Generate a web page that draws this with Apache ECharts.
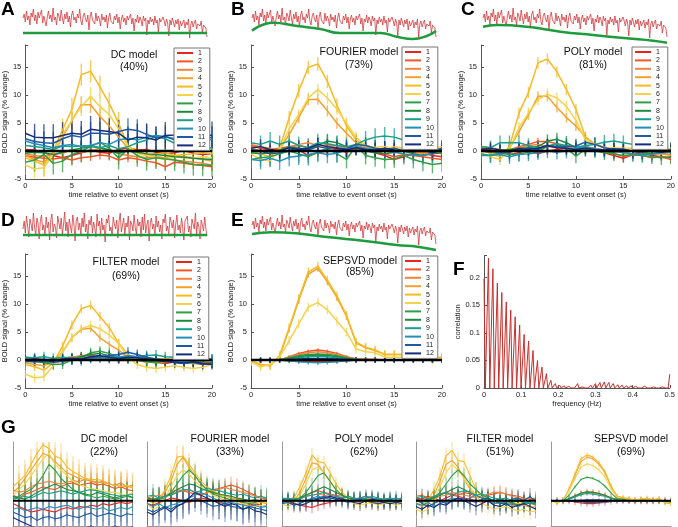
<!DOCTYPE html>
<html><head><meta charset="utf-8">
<script src="https://cdn.jsdelivr.net/npm/echarts/dist/echarts.min.js"></script>
<style>html,body{margin:0;padding:0;background:#fff}#c{width:678px;height:527px}</style>
</head><body><div id="c"></div>
<script>
const FONT = '"Liberation Sans", Arial, Helvetica, sans-serif';
const seriesNames = ['1','2','3','4','5','6','7','8','9','10','11','12'];
const colors = ['#e4261f','#f0562a','#f2843e','#f3a02c','#f7ba22','#f6d24a','#2ea043','#1c8a3c','#17a08c','#2390b8','#1f5aa2','#172c7a'];
const timePoints = [0,1,2,3,4,5,6,7,8,9,10,11,12,13,14,15,16,17,18,19,20];

// ---- top traces (scan index 0..159) ----
const rawSignal = [
26,30,22,33,24,28,19,31,27,35,23,29,20,32,26,24,34,21,28,30,
18,27,33,25,29,22,36,24,27,19,31,28,23,34,26,20,30,25,32,22,
28,17,29,33,24,27,21,30,26,35,23,19,28,31,25,22,29,14,27,32,
24,26,20,31,23,28,25,18,30,24,27,22,29,16,26,31,23,25,20,28,
24,30,21,27,15,25,29,22,26,19,28,24,23,30,20,26,13,25,22,29,
21,27,24,18,28,23,26,9,24,20,27,22,25,19,28,21,24,12,26,22,
20,27,23,18,25,21,8,24,19,26,22,17,24,20,25,14,23,18,21,24,
16,22,19,25,6,20,23,17,21,24,15,20,22,18,23,11,19,21,16,7];
const filteredSignal = [
22,30,18,35,25,14,32,27,20,38,24,16,33,28,12,30,36,21,26,15,
34,23,29,11,31,37,19,27,24,13,35,28,22,33,17,26,39,20,29,14,
32,25,18,36,27,10,30,34,21,28,16,33,24,38,19,27,12,31,26,35,
18,29,23,14,37,25,30,17,33,21,26,9,32,28,36,20,24,15,34,27,
22,31,13,29,38,19,26,33,16,28,24,35,11,30,27,20,36,23,17,32,
25,29,14,34,21,37,18,26,31,10,28,33,22,27,15,35,24,30,19,26,
12,32,28,37,20,25,16,34,29,23,31,13,27,36,21,26,18,33,24,11,
30,28,35,19,25,14,32,27,22,38,17,29,24,12,31,26,20,34,23,15];
const driftDC = [[0,11],[159,11]];
const driftFourier = [[0,13.3],[18,21.3],[39,18],[59,15],[76,11],[96,11],[111,11],[125,7.3],[139,5],[151,8],[159,13]];
const driftPoly = [[0,17.3],[12,19],[38,17.3],[67,12.3],[95,9],[124,5.7],[147,3.3],[159,1.3]];
const driftFilter = [[0,16],[159,16]];
const driftSepsvd = [[0,17],[17,18.7],[38,17.7],[67,13.7],[96,10.3],[125,6],[143,4.3],[159,1]];

// ---- main panels: 12 series x 21 time points ----
const dcModel = [
[0.3,0.2,-0.3,-0.8,-1.2,-0.8,-0.3,0.2,-0.2,-0.4,0.3,0.6,0.2,0.3,-0.2,-0.5,-0.3,0.1,-0.4,-0.6,-0.5],
[-0.8,-1.1,-1.3,-1.4,-1.2,-1.6,-1.2,-1.0,-0.7,-0.9,-1.6,-1.2,-1.4,-1.8,-2.1,-2.8,-2.0,-2.2,-2.4,-2.6,-2.8],
[-0.5,-0.8,-1.0,-0.6,-0.4,0.3,-0.2,0.0,0.5,0.3,-0.5,-0.8,-1.0,-1.2,-1.0,-1.3,-1.6,-1.8,-2.0,-2.2,-2.5],
[-0.8,-1.5,-2.0,-0.5,2.5,5.5,8.3,8.3,6.2,4.5,2.5,0.5,-0.3,-0.5,-1.0,-1.2,-0.8,-1.0,-1.2,-1.5,-1.8],
[-1.2,-1.8,-2.5,0.0,3.8,7.5,13.7,14.3,11.5,8.5,5.0,1.0,-0.2,-0.8,-0.5,-0.3,-0.8,-0.6,-0.5,-0.3,-0.5],
[-2.5,-3.2,-3.0,-0.5,3.0,5.5,8.0,9.8,8.0,6.5,4.0,0.8,-0.5,-0.8,-1.2,-1.5,-1.0,-1.2,-1.3,-1.0,-1.2],
[-2.0,-1.6,-0.6,-2.2,-1.8,-0.6,0.0,0.8,1.6,0.5,-1.3,0.4,-0.8,-1.5,-1.2,-1.4,-1.6,-2.0,-2.4,-2.5,-2.6],
[-0.4,-0.2,-0.3,-0.6,-0.2,0.2,0.5,0.8,0.6,0.2,-0.4,0.0,-0.2,-0.5,-0.6,-0.8,-1.0,-1.1,-1.3,-1.4,-1.5],
[1.0,0.8,0.6,0.3,0.9,0.8,0.9,1.0,0.6,1.0,0.4,0.8,1.5,2.0,2.6,2.2,1.4,0.8,0.5,0.6,0.6],
[1.8,1.3,1.0,0.6,1.0,1.2,0.8,1.0,1.5,1.2,2.0,2.3,2.0,2.5,2.8,2.6,2.2,2.4,2.0,1.8,2.1],
[2.2,1.7,1.5,1.4,2.2,2.8,2.5,3.2,3.2,3.0,3.5,3.9,3.7,3.0,2.4,2.6,2.0,2.7,2.3,2.0,2.5],
[3.2,2.5,2.4,2.4,2.8,3.2,3.0,3.9,3.7,3.5,3.2,2.0,2.5,2.4,2.0,2.8,2.9,3.1,2.9,2.6,2.9]];
const dcErr = [0.6,0.8,0.8,1.5,2.0,1.7,2.0,0.9,0.8,0.7,2.0,2.4];

const fourierModel = [
[1.0,0.5,0.2,-0.3,0.0,0.2,-0.8,-0.3,0.0,0.3,-0.2,0.5,0.2,-0.3,-0.8,-1.5,-1.0,-0.5,-0.3,-0.8,-1.0],
[0.8,0.6,0.3,0.5,0.8,1.0,0.6,0.8,1.2,0.5,0.2,0.5,0.3,0.0,-0.5,-1.0,-0.6,-0.8,-1.0,-1.3,-1.5],
[1.2,0.8,0.5,0.2,0.6,1.2,1.5,1.0,0.8,1.0,0.6,1.0,0.6,0.4,0.2,0.0,0.3,0.0,-0.3,-0.2,-0.5],
[0.5,0.0,-0.5,0.3,3.0,6.0,9.2,9.3,7.2,5.0,3.2,1.5,0.8,0.3,0.0,-0.3,0.0,-0.3,-0.5,-0.4,-0.3],
[0.2,-0.5,-1.0,0.5,6.0,10.8,15.0,15.6,12.5,8.2,4.5,2.0,0.8,0.5,0.3,0.8,0.5,0.3,0.2,0.3,0.4],
[-0.5,-1.5,-1.8,0.2,4.0,6.5,9.5,11.0,9.5,7.5,5.0,2.5,1.0,0.7,0.8,0.5,0.6,0.3,0.2,0.5,0.8],
[-1.5,-1.2,-1.0,-0.5,0.0,-0.5,-1.0,-0.2,0.5,-0.5,-1.5,1.0,-0.8,-1.2,-1.5,-1.4,-0.8,-1.5,-2.0,-2.4,-2.2],
[-0.3,-0.5,-0.3,0.2,0.8,0.5,0.3,1.0,1.8,1.5,0.8,0.5,0.0,-0.3,-0.5,-0.2,0.0,-0.5,-0.8,-0.5,-0.3],
[1.5,1.2,1.8,1.2,1.8,1.0,0.6,1.5,1.3,1.0,0.8,1.2,2.0,2.5,2.7,2.5,2.0,1.2,0.5,0.2,0.3],
[-1.5,-1.7,-1.3,-1.8,-1.1,-0.9,-0.6,-0.3,-0.6,-0.4,0.2,0.8,0.5,0.3,0.0,-0.2,-0.5,-0.7,-0.8,-0.4,0.3],
[0.3,0.0,-0.5,-0.3,0.2,0.5,0.2,0.8,0.5,0.6,0.4,1.2,1.0,0.5,0.3,0.5,0.0,-0.2,0.2,0.0,0.5],
[0.5,0.8,0.3,0.0,0.6,0.3,0.5,1.2,0.8,0.5,0.2,0.6,0.3,0.2,0.5,0.2,0.0,0.3,0.2,-0.3,0.2]];
const fourierErr = [0.8,0.8,0.8,1.0,1.2,1.0,1.6,1.3,1.6,1.6,1.5,1.3];

const polyModel = [
[0.5,0.2,0.0,-0.6,-0.3,0.3,-0.5,0.0,0.3,0.5,0.0,0.8,0.3,-0.3,-0.8,-1.3,-0.6,-0.3,-0.8,-1.0,-1.2],
[0.3,0.0,-0.3,0.2,0.8,1.2,1.7,1.7,1.3,0.8,0.2,0.5,0.4,0.0,-0.4,-1.0,-0.7,-0.8,-1.2,-1.0,-1.5],
[0.8,0.6,0.3,0.0,0.5,1.0,1.2,0.8,0.6,0.8,0.4,0.8,0.5,0.2,0.0,-0.3,0.0,-0.2,-0.5,-0.4,-0.6],
[0.2,-0.3,-0.5,0.5,3.5,6.5,9.8,9.8,7.8,6.0,4.5,2.5,1.2,0.6,0.3,-0.3,0.0,-0.3,-0.5,-0.5,-0.8],
[0.3,-0.5,-1.0,0.8,6.8,10.5,15.8,16.5,14.2,11.0,7.5,2.5,1.3,0.7,0.5,0.5,0.4,0.3,0.2,0.2,0.2],
[-0.3,-1.0,-1.5,0.3,4.2,6.8,9.2,10.2,9.5,8.0,5.5,2.0,1.2,0.6,0.6,0.4,0.5,0.2,0.0,0.3,0.5],
[-0.5,-0.8,-0.3,-0.6,-0.5,-0.2,0.0,0.8,1.2,0.5,-0.9,0.3,0.0,-0.3,-0.5,-0.8,-0.6,-0.8,-1.0,-1.2,-1.0],
[0.0,-0.2,0.0,0.3,0.5,0.6,0.8,1.8,2.1,1.5,0.6,0.3,0.2,0.0,-0.2,0.2,0.0,-0.3,-0.4,-0.2,0.0],
[0.8,0.6,1.5,1.5,1.5,1.0,0.5,0.9,1.3,1.0,0.7,1.0,1.2,1.6,1.8,1.5,1.2,0.6,0.3,0.2,0.2],
[-0.8,-0.8,-0.6,-1.0,-0.6,-0.5,-0.3,0.0,-0.2,0.0,0.4,0.8,0.4,0.2,0.0,-0.3,-0.5,-0.6,-0.6,-0.3,-0.2],
[0.2,0.0,-0.3,-0.2,0.3,0.5,0.3,0.9,0.8,0.8,0.9,1.6,1.2,0.6,0.3,0.4,-0.1,-0.2,0.1,-0.1,0.3],
[0.3,0.5,0.2,0.0,0.4,0.3,0.5,1.0,0.6,0.5,0.3,0.5,0.3,0.2,0.4,0.2,0.0,0.2,0.1,-0.2,0.1]];
const polyErr = [0.7,0.7,0.7,0.9,1.0,1.0,1.3,1.2,1.3,1.3,1.3,1.1];

const filterModel = [
[0.5,0.3,0.0,-0.3,-0.2,0.3,0.0,0.3,0.5,0.2,0.0,0.3,0.2,-0.2,-0.4,-0.6,-0.3,0.0,-0.2,0.0,0.3],
[0.2,0.0,-0.3,-0.2,0.2,0.5,0.8,0.8,0.6,0.3,0.0,0.2,0.2,0.0,-0.2,-0.5,-0.3,-0.4,-0.6,-0.4,-0.5],
[0.3,0.2,0.0,-0.2,0.3,0.6,0.6,0.5,0.4,0.4,0.2,0.5,0.3,0.2,0.0,-0.1,0.1,0.0,-0.2,-0.1,-0.2],
[-0.5,-0.8,-1.0,-0.3,1.5,4.0,5.5,5.7,4.0,2.8,1.8,0.5,0.0,-0.3,-0.5,-0.4,-0.3,-0.5,-0.6,-0.8,-0.7],
[-0.8,-1.2,-1.8,-0.5,2.5,6.3,9.2,9.8,7.8,5.8,3.0,1.0,0.0,-0.5,0.0,0.3,0.0,-0.3,-0.5,-0.8,-0.6],
[-2.5,-3.2,-3.0,-1.0,1.5,4.0,5.6,6.2,5.6,4.5,3.0,0.5,-0.8,-1.3,-1.5,-1.3,-1.0,-1.3,-1.5,-1.3,-0.8],
[-0.3,-0.2,-0.5,-0.8,-0.7,0.0,0.5,1.3,1.6,1.2,0.5,0.3,0.0,-0.3,-0.5,-0.2,0.0,-0.3,-0.5,-0.6,-0.5],
[0.0,-0.2,-0.3,-0.3,0.0,0.3,0.6,1.0,1.2,0.8,0.4,0.2,0.0,-0.2,-0.2,0.0,0.0,-0.2,-0.3,-0.2,0.0],
[0.5,0.4,0.6,0.3,0.5,0.4,0.3,0.6,0.7,0.5,0.6,0.7,0.6,0.8,0.9,0.6,0.5,0.3,0.2,0.3,0.2],
[0.3,0.0,0.2,-0.2,0.0,0.2,-0.1,0.3,0.4,0.3,0.5,0.8,0.6,0.4,0.2,0.0,-0.2,-0.3,-0.2,0.0,0.2],
[-0.2,-0.3,-0.2,-0.4,-0.2,0.0,0.2,0.5,0.6,0.8,1.0,1.4,1.0,0.5,0.2,0.0,-0.5,-0.6,-0.4,-0.8,-0.5],
[0.0,0.2,0.0,-0.2,0.2,0.3,0.2,0.6,0.8,0.5,0.3,0.5,0.4,0.2,0.0,-0.3,-0.4,-0.5,-0.3,-0.6,-0.8]];
const filterErr = [0.6,0.6,0.6,0.7,0.8,0.8,0.9,0.9,0.9,0.9,0.9,0.9];

const sepsvdModel = [
[0,0,0,0,-0.1,-0.2,-0.3,-0.3,-0.3,-0.2,-0.1,0,0,0,0,0,0,0,0,0,0],
[0,0,0,0,0.6,1.2,1.6,1.8,1.6,1.2,0.6,0.2,0.1,0.1,0,0,0,0,0,0,0],
[0,0,0,0,0.5,1.0,1.3,1.5,1.3,1.0,0.5,0.2,0.1,0.1,0,0,0,0,0,0,0],
[-0.2,-0.8,-1.0,0.7,5.6,10.7,15.4,16.4,14.0,11.2,7.8,3.1,2.2,1.7,1.0,1.0,1.0,1.0,0.8,0.3,0.5],
[-0.2,-0.8,-1.0,0.8,5.8,11.0,15.8,16.8,14.3,11.5,8.0,3.2,2.3,1.8,1.0,1.0,1.0,1.0,0.8,0.3,0.5],
[-0.3,-1.2,-0.8,0.5,3.5,6.5,9.5,10.3,9.0,7.0,5.0,2.0,1.5,1.3,0.5,0.5,0.5,0.5,0.3,0.0,0.3],
[0,0,0,0,0.4,0.8,1.0,1.1,1.0,0.8,0.4,0.1,0.1,0,0,0,0,0,0,0,0],
[0,0,0,0,0.3,0.6,0.8,0.9,0.8,0.6,0.3,0.1,0,0,0,0,0,0,0,0,0],
[0,0,0,0,0.2,0.4,0.6,0.7,0.6,0.4,0.2,0.1,0,0,0,0,0,0,0,0,0],
[0,0,0,0,-0.1,-0.3,-0.4,-0.5,-0.4,-0.3,-0.1,0,0,0,0,0,0,0,0,0,0],
[0,0,0,0,0.1,0.2,0.3,0.3,0.3,0.2,0.1,0,0,0,0,0,0,0,0,0,0],
[0,0,0,0,0.1,0.1,0.2,0.2,0.2,0.1,0.1,0,0,0,0,0,0,0,0,0,0]];
const sepsvdErr = [0.3,0.3,0.3,0.6,0.8,0.8,0.3,0.3,0.3,0.4,0.5,0.5];

// ---- panel F ----
const freqStep = 0.012;
const corrPeaks = [0.198,0.235,0.216,0.19,0.173,0.156,0.141,0.129,0.114,0.097,0.085,0.068,0.05,0.038,0.026,0.014,0.008,0.005,0.004,0.003,0.003,0.008,0.002,0.003,0.005,0.008,0.010,0.011,0.010,0.008,0.006,0.005,0.004,0.004,0.003,0.003,0.003,0.002,0.002,0.002,0.002,0.002];
const corrEnd = 0.025;

// ---- panel G ----
const gDC = [
[-0.5,-1.0,-1.5,-2.0,-1.8,-1.5,-1.8,-2.0,-1.5,-1.2,-1.5,-1.0,-1.2,-0.8,-1.0,-0.5,-0.8,-0.5,-0.3,-0.5,-0.2],
[1.0,0.5,1.2,1.5,2.0,2.5,2.2,2.0,2.5,3.0,3.2,2.8,3.0,3.2,2.8,3.0,2.6,2.2,2.5,2.0,1.8],
[2.0,1.5,1.8,2.5,3.0,3.2,3.5,3.2,3.0,3.3,3.6,3.4,3.8,3.5,3.2,3.5,3.0,2.8,3.2,2.5,2.8],
[1.5,2.5,4.0,5.5,7.0,8.5,8.0,7.0,6.0,5.0,4.5,4.0,3.8,3.6,3.4,3.2,3.0,2.8,2.6,2.5,2.4],
[2.5,3.5,4.5,6.5,8.5,10.0,9.3,8.0,7.5,6.0,5.2,4.6,4.0,3.8,3.8,3.6,3.0,2.8,2.6,2.8,2.2],
[1.0,2.0,3.0,4.5,6.0,7.5,8.5,6.5,5.5,4.5,3.5,3.0,2.5,2.2,2.0,1.8,1.5,1.5,1.2,1.0,1.5],
[0.5,0.8,1.5,2.0,3.0,4.5,6.5,5.5,4.0,3.0,2.0,1.5,1.0,0.8,0.5,0.8,0.6,0.3,0.5,0.8,0.5],
[0.8,0.5,0.3,0.8,1.5,2.0,2.5,3.0,2.5,2.0,1.8,1.5,1.2,1.0,1.5,1.2,0.8,0.5,0.8,1.0,0.6],
[0.3,0.5,0.8,0.5,1.0,1.5,1.3,1.5,1.8,1.5,1.2,1.5,1.8,2.0,1.8,1.5,1.2,1.0,0.8,1.0,1.2],
[-1.5,-1.2,-1.8,-1.5,-1.2,-1.5,-1.0,-1.3,-1.0,-0.8,-1.2,-1.5,-1.0,-1.3,-1.5,-1.2,-1.8,-1.5,-1.2,-1.5,-1.0],
[-2.0,-2.5,-3.0,-2.8,-3.5,-3.0,-2.8,-3.2,-3.0,-2.5,-2.8,-3.0,-2.5,-2.2,-2.8,-2.5,-2.2,-2.5,-2.8,-2.3,-2.5],
[-3.0,-3.5,-4.0,-4.5,-5.0,-5.5,-5.0,-4.8,-5.2,-5.0,-4.8,-5.5,-5.0,-4.5,-5.0,-4.8,-5.0,-4.5,-4.8,-5.0,-4.6]];
const gDCErr = [1.5,1.8,1.8,2.5,2.8,2.8,2.5,2.5,2.2,2.5,2.8,3.0];
const gFourier = [
[-0.5,-0.8,-0.3,0.0,0.5,0.3,0.0,-0.3,0.2,0.5,0.3,0.0,-0.3,-0.5,-0.2,0.0,-0.5,-0.8,-0.5,-0.8,-1.0],
[0.3,0.0,0.5,0.8,1.5,2.0,1.8,1.5,1.2,1.0,1.5,2.0,2.2,2.5,2.8,2.5,2.0,1.5,1.0,0.5,0.3],
[0.5,0.8,1.0,0.8,1.2,1.5,1.8,2.0,1.6,1.2,1.4,1.8,2.0,2.4,2.0,1.8,1.5,1.2,0.8,0.5,0.6],
[0.5,0.0,0.5,1.5,3.5,6.5,7.8,6.0,4.5,3.0,2.0,1.5,1.0,0.8,0.5,0.3,0.0,-0.3,-0.5,-0.3,-0.5],
[0.3,-0.5,0.2,2.0,4.5,7.8,8.0,6.5,5.0,3.5,2.5,1.8,1.2,1.0,0.8,0.5,0.3,0.0,-0.2,0.0,-0.3],
[-0.5,-1.5,-1.0,0.5,2.5,4.5,5.5,4.8,3.5,2.5,1.8,1.0,0.5,0.2,0.0,-0.3,-0.5,-0.8,-1.0,-0.8,-1.0],
[0.2,0.0,0.3,0.5,1.5,3.0,4.5,5.5,4.5,3.0,2.0,1.2,0.8,0.5,0.2,0.0,-0.2,-0.5,-0.3,0.0,0.2],
[0.5,0.3,0.5,0.8,1.2,2.0,2.5,3.0,2.8,2.2,1.8,1.5,1.2,1.0,0.8,0.5,0.3,0.0,0.2,0.0,0.0],
[0.8,1.0,0.5,0.8,1.0,1.5,2.0,2.0,1.5,1.8,2.2,2.0,1.8,1.5,1.2,1.0,1.2,0.8,0.5,0.8,0.5],
[-0.5,-1.0,-0.5,-1.2,-0.8,-0.5,0.0,0.5,1.0,1.5,1.0,0.5,0.0,-0.5,-0.3,-0.5,-0.8,-1.0,-0.8,-1.2,-1.0],
[-1.5,-2.0,-1.5,-1.0,-1.5,-0.8,-0.5,0.0,0.5,0.0,-0.5,-1.0,-0.8,-0.5,-1.0,-1.2,-1.5,-1.0,-1.3,-1.5,-1.8],
[-2.0,-2.5,-1.8,-1.2,-2.0,-1.0,-0.5,0.5,1.5,1.0,0.5,0.0,-0.5,-1.0,-0.5,-0.8,-1.5,-1.2,-1.8,-2.0,-2.5]];
const gFourierErr = [1.5,1.5,1.5,1.8,2.0,2.0,2.0,2.0,2.0,2.2,2.5,2.8];
const gPoly = [
[0.0,-0.3,-0.5,-0.8,-1.0,-1.2,-0.8,-0.5,-0.3,0.0,0.3,0.0,-0.2,0.0,0.2,-0.2,-0.5,-0.3,0.0,-0.2,-0.3],
[0.5,0.3,0.0,0.5,1.0,1.5,1.8,1.5,1.2,1.0,0.8,0.5,0.3,0.5,0.8,0.5,0.3,0.0,-0.2,0.0,0.2],
[0.3,0.5,0.2,0.3,0.8,1.0,1.2,1.0,0.8,0.6,0.5,0.8,0.5,0.3,0.5,0.3,0.0,0.2,0.0,-0.3,0.0],
[0.0,-0.5,0.0,1.5,4.0,6.8,6.5,5.0,3.5,2.0,1.0,0.5,0.0,-0.3,0.0,-0.5,-0.3,0.0,-0.5,-0.3,-0.5],
[0.2,-0.3,0.5,2.5,5.0,8.2,7.0,6.8,5.0,3.0,1.5,0.5,0.3,0.0,0.2,-0.2,0.0,0.3,-0.2,0.0,-0.3],
[-0.5,-1.0,-0.5,1.0,3.0,5.5,6.0,5.0,3.5,2.0,0.8,0.0,-0.5,-0.8,-0.5,-0.3,-0.8,-0.5,-0.3,-0.8,-0.5],
[0.0,0.2,0.0,0.5,1.5,3.0,4.5,5.0,3.5,2.0,1.0,0.5,0.3,0.0,0.2,0.0,0.3,0.0,-0.2,0.0,0.0],
[0.3,0.0,0.2,0.5,1.0,1.5,2.0,2.5,2.0,1.5,1.0,0.5,0.3,0.5,0.3,0.0,0.2,0.0,0.3,0.0,0.2],
[0.5,0.3,0.5,0.3,0.8,1.0,1.2,1.5,1.0,0.8,0.5,0.8,0.5,0.3,0.5,0.8,0.5,0.3,0.5,0.3,0.5],
[0.3,0.5,0.0,-0.3,0.0,0.5,0.8,0.5,0.3,0.8,0.5,0.0,0.3,0.5,0.8,0.5,0.3,0.0,0.3,0.5,0.2],
[-0.5,-0.3,-0.8,-0.5,0.0,0.3,0.5,0.8,0.5,0.3,0.0,-0.3,0.0,0.3,0.0,-0.3,-0.5,-0.3,0.0,-0.3,-0.5],
[-0.3,0.0,-0.5,-0.8,-0.5,0.0,0.3,0.5,0.8,0.5,0.3,0.0,-0.3,-0.5,0.0,0.3,0.0,-0.3,-0.5,-0.3,0.0]];
const gPolyErr = [1.0,1.0,1.0,1.2,1.2,1.2,1.2,1.2,1.2,1.3,1.3,1.3];
const gFilter = [
[0.5,0.3,0.8,0.5,0.0,0.5,1.0,0.8,0.5,0.3,0.0,-0.3,0.0,-0.5,-0.3,0.0,-0.5,-0.8,-0.5,-0.3,-0.5],
[0.8,1.0,0.5,0.8,1.2,1.5,1.2,1.0,1.5,1.2,0.8,0.5,1.0,1.2,1.5,1.2,1.0,0.8,0.5,0.3,0.5],
[0.3,0.0,0.5,0.3,0.8,1.0,1.5,1.3,1.0,0.8,0.5,0.8,1.2,1.5,1.5,1.2,0.8,0.5,0.3,0.5,0.0],
[-0.5,-1.0,-0.5,1.0,3.5,6.5,7.2,6.0,4.0,2.0,1.0,0.5,0.0,-0.5,-0.3,-0.5,-0.8,-1.0,-0.8,-1.2,-1.0],
[-0.3,-0.8,0.0,2.0,4.5,8.0,9.0,7.2,7.0,4.5,2.0,0.5,0.2,0.0,0.3,0.0,-0.3,-0.5,-0.3,-0.5,-0.8],
[-1.5,-2.0,-1.5,0.0,2.5,5.0,6.5,5.5,4.0,2.5,1.0,-0.5,-1.0,-1.5,-1.2,-1.0,-1.5,-1.8,-1.5,-2.0,-1.8],
[0.0,-0.3,0.0,0.5,1.5,3.0,4.5,5.5,4.5,3.0,2.0,1.0,0.5,0.0,-0.3,-0.5,-0.3,-0.8,-0.5,-0.3,-0.5],
[0.3,0.0,0.3,0.5,1.0,1.5,2.0,2.5,2.0,1.5,1.0,0.5,0.3,0.0,0.3,0.0,-0.3,0.0,-0.3,-0.5,-0.3],
[0.5,0.8,0.3,0.8,1.2,1.5,1.0,1.5,1.8,1.5,1.0,1.2,0.8,0.5,0.3,0.5,0.0,0.3,-0.3,0.0,0.3],
[-0.5,-0.8,-0.3,-1.0,-0.5,0.0,0.5,0.3,0.0,0.5,1.0,0.5,0.0,-0.5,-0.3,-0.8,-0.5,-1.0,-0.5,-0.3,-0.8],
[0.3,-0.5,-1.0,-0.5,0.0,-0.5,0.0,0.5,0.3,0.0,-0.3,0.3,0.5,0.0,-0.5,-0.3,0.3,0.5,0.0,0.8,-0.3],
[-1.0,-1.5,-0.8,-1.2,-0.5,-0.8,0.0,0.5,0.0,-0.5,-1.0,-0.5,0.0,-0.8,-1.0,-0.5,-1.2,-0.8,-0.5,-1.0,-1.5]];
const gFilterErr = [1.2,1.2,1.2,1.3,1.5,1.5,1.3,1.3,1.3,1.5,1.5,1.6];
const gSepsvd = [
[0,0,0,0,-0.2,-0.4,-0.5,-0.5,-0.4,-0.3,-0.1,0,0,0,0,0,0,0,0,0,0],
[0,0,0,0.3,0.8,1.3,1.6,1.5,1.3,1.0,0.5,0.3,0.2,0.1,0,0,0,0,0,0,0],
[0,0,0,0.3,0.8,1.3,1.5,1.4,1.2,0.9,0.5,0.3,0.2,0.1,0,0,0,0,0,0,0],
[0,-0.3,0,2.0,4.5,7.0,7.8,7.5,6.5,5.0,2.5,0.8,0.5,0.3,0.1,0.3,0.3,0.2,0.3,-0.3,-0.5],
[0,-0.3,0,2.1,4.8,7.5,8.2,7.8,6.8,5.2,2.7,0.8,0.6,0.4,0.2,0.3,0.5,0.2,0.4,-0.3,-0.5],
[0,-0.2,0,1.8,4.0,6.0,6.6,6.3,5.5,4.2,2.2,0.6,0.4,0.2,0.1,0.2,0.3,0.1,0.2,-0.2,-0.4],
[0,0,0,1.0,2.5,3.8,4.2,4.0,3.5,2.6,1.4,0.4,0.3,0.1,0,0.1,0.1,0,0.1,-0.1,-0.2],
[0,0,0,0.4,0.9,1.4,1.6,1.5,1.3,1.0,0.5,0.2,0.1,0,0,0,0,0,0,0,0],
[0,0,0,0.3,0.7,1.1,1.3,1.2,1.0,0.8,0.4,0.1,0.1,0,0,0,0,0,0,0,0],
[0,0,0,0,-0.1,-0.2,-0.3,-0.3,-0.2,-0.2,-0.1,0,0,0,0,0,0,0,0,0,0],
[0,0,0,0,0.1,0.1,0.2,0.2,0.2,0.1,0.1,0,0,0,0,0,0,0,0,0,0],
[0,0,0,0,-0.1,-0.1,-0.2,-0.2,-0.2,-0.1,0,0,0,0,0,0,0,0,0,0,0]];
const gSepsvdErr = [0.6,0.6,0.6,0.5,0.5,0.5,0.3,0.3,0.3,0.3,0.3,0.3];

// ---- build ----
const grids = [], xAxes = [], yAxes = [], series = [];
function addGrid(rect, xa, ya) {
  const i = grids.length;
  grids.push(Object.assign({containLabel: false}, rect));
  xAxes.push(Object.assign({gridIndex: i}, xa));
  yAxes.push(Object.assign({gridIndex: i}, ya));
  return i;
}
const axisCol = '#555';
const lbl = {fontSize: 7.5, color: '#222', fontFamily: FONT};
function mainX() {
  return {type: 'value', min: 0, max: 20, interval: 5,
    axisLine: {show: true, onZero: false, lineStyle: {color: axisCol, width: 1}},
    axisTick: {show: true, inside: true, length: 3, lineStyle: {color: axisCol}},
    axisLabel: Object.assign({margin: 3}, lbl), splitLine: {show: false},
    name: 'time relative to event onset (s)', nameLocation: 'middle', nameGap: 11, nameTextStyle: lbl};
}
function mainY() {
  return {type: 'value', min: -5, max: 19, interval: 5,
    axisLine: {show: true, onZero: false, lineStyle: {color: axisCol, width: 1}},
    axisTick: {show: true, inside: true, length: 3, lineStyle: {color: axisCol}},
    axisLabel: Object.assign({margin: 4, formatter: v => (v % 5 === 0 ? String(v) : '')}, lbl),
    splitLine: {show: false},
    name: 'BOLD signal (% change)', nameLocation: 'middle', nameGap: 11, nameTextStyle: lbl};
}
const hiddenX = {type: 'value', min: 0, max: 159, show: false, splitLine: {show: false}};
const hiddenY = {type: 'value', min: 0, max: 44, show: false, splitLine: {show: false}};

function traceSeries(gi, signal, drift) {
  series.push({type: 'line', xAxisIndex: gi, yAxisIndex: gi, data: signal.map((v, i) => [i, v]),
    symbol: 'none', lineStyle: {color: '#d43a3c', width: 0.8}, silent: true, z: 2});
  series.push({type: 'line', xAxisIndex: gi, yAxisIndex: gi, data: drift, smooth: true,
    symbol: 'none', lineStyle: {color: '#1f9a3c', width: 2.5}, silent: true, z: 3});
}
function modelSeries(gi, vals, errs, lw, ew, eo, zw) {
  const data = [];
  vals.forEach((arr, k) => arr.forEach((v, i) => data.push([timePoints[i], v, errs[k], k])));
  series.push({type: 'custom', xAxisIndex: gi, yAxisIndex: gi, data, clip: true, silent: true, z: 2,
    encode: {x: 0, y: 1},
    renderItem: (p, api) => {
      const t = api.value(0), y = api.value(1), e = api.value(2), k = api.value(3);
      const a = api.coord([t, y - e]), b = api.coord([t, y + e]);
      return {type: 'line', shape: {x1: a[0], y1: a[1], x2: b[0], y2: b[1]},
        style: {stroke: colors[k], lineWidth: ew, opacity: eo}};
    }});
  vals.forEach((arr, k) => series.push({type: 'line', name: seriesNames[k], xAxisIndex: gi, yAxisIndex: gi,
    data: arr.map((v, i) => [timePoints[i], v]), symbol: 'none', showSymbol: false, clip: true,
    lineStyle: {width: lw, color: colors[k]}, itemStyle: {color: colors[k]}, silent: true, z: 3}));
  series.push({type: 'line', xAxisIndex: gi, yAxisIndex: gi, data: [[0, 0], [20, 0]], symbol: 'none',
    lineStyle: {color: '#000', width: zw}, silent: true, z: 4});
}

// top traces
traceSeries(addGrid({left: 23, top: 0, width: 184, height: 44}, hiddenX, hiddenY), rawSignal, driftDC);
traceSeries(addGrid({left: 252, top: 0, width: 184, height: 44}, hiddenX, hiddenY), rawSignal, driftFourier);
traceSeries(addGrid({left: 483, top: 0, width: 184, height: 44}, hiddenX, hiddenY), rawSignal, driftPoly);
traceSeries(addGrid({left: 23, top: 207, width: 184, height: 44}, hiddenX, hiddenY), filteredSignal, driftFilter);
traceSeries(addGrid({left: 252, top: 207, width: 184, height: 44}, hiddenX, hiddenY), rawSignal, driftSepsvd);

// main panels
modelSeries(addGrid({left: 21, top: 45, width: 191, height: 134}, mainX(), mainY()), dcModel, dcErr, 1.5, 1.4, 0.75, 2.5);
modelSeries(addGrid({left: 251, top: 45, width: 191, height: 134}, mainX(), mainY()), fourierModel, fourierErr, 1.5, 1.4, 0.75, 2.5);
modelSeries(addGrid({left: 481, top: 45, width: 191, height: 134}, mainX(), mainY()), polyModel, polyErr, 1.5, 1.4, 0.75, 2.5);
modelSeries(addGrid({left: 21, top: 254, width: 191, height: 134}, mainX(), mainY()), filterModel, filterErr, 1.5, 1.4, 0.75, 2.5);
modelSeries(addGrid({left: 251, top: 254, width: 191, height: 134}, mainX(), mainY()), sepsvdModel, sepsvdErr, 1.5, 1.4, 0.75, 2.5);

// panel F: spikes at each peak frequency, flat zero between
const fData = [];
corrPeaks.forEach((v, k) => {
  if (k > 0) fData.push([(k - 0.3) * freqStep, 0]);
  fData.push([k * freqStep, v]);
  fData.push([(k + 0.3) * freqStep, 0]);
});
fData.push([0.5, corrEnd]);
const fi = addGrid({left: 484, top: 255.5, width: 190, height: 132.5},
  {type: 'value', min: 0, max: 0.5, interval: 0.1,
   axisLine: {show: true, onZero: false, lineStyle: {color: axisCol}},
   axisTick: {show: true, inside: true, length: 3, lineStyle: {color: axisCol}},
   axisLabel: Object.assign({margin: 3}, lbl), splitLine: {show: false},
   name: 'frequency (Hz)', nameLocation: 'middle', nameGap: 11, nameTextStyle: lbl},
  {type: 'value', min: 0, max: 0.24, interval: 0.05,
   axisLine: {show: true, onZero: false, lineStyle: {color: axisCol}},
   axisTick: {show: true, inside: true, length: 3, lineStyle: {color: axisCol}},
   axisLabel: Object.assign({margin: 4, formatter: v => (v > 0.201 ? '' : String(+v.toFixed(2)))}, lbl),
   splitLine: {show: false},
   name: 'correlation', nameLocation: 'middle', nameGap: 20, nameTextStyle: lbl});
series.push({type: 'line', xAxisIndex: fi, yAxisIndex: fi, data: fData, symbol: 'none',
  lineStyle: {color: '#c8302c', width: 1}, silent: true});

// panel G
const gLefts = [13, 147, 282, 416, 551];
const gSets = [[gDC, gDCErr], [gFourier, gFourierErr], [gPoly, gPolyErr], [gFilter, gFilterErr], [gSepsvd, gSepsvdErr]];
gSets.forEach((s, j) => {
  const gi = addGrid({left: gLefts[j], top: 442, width: 120, height: 84},
    {type: 'value', min: 0, max: 20, axisLine: {show: true, onZero: false, lineStyle: {color: '#999'}},
     axisTick: {show: false}, axisLabel: {show: false}, splitLine: {show: false}},
    {type: 'value', min: -4.5, max: 10.5, axisLine: {show: true, onZero: false, lineStyle: {color: '#999'}},
     axisTick: {show: false}, axisLabel: {show: false}, splitLine: {show: false}});
  modelSeries(gi, s[0], s[1], 1.1, 1.0, 0.5, 2);
});

// legends
const legendPos = [[174, 48], [402, 47], [632, 47], [173, 257], [402, 256]];
const legends = legendPos.map(p => ({data: seriesNames, orient: 'vertical', left: p[0], top: p[1],
  icon: 'rect', itemWidth: 16, itemHeight: 2, itemGap: 0.4, padding: [1, 4, 1, 3],
  backgroundColor: '#fff', borderColor: '#777', borderWidth: 1, selectedMode: false, z: 10,
  textStyle: {fontSize: 7, lineHeight: 8, color: '#222', fontFamily: FONT}}));

// texts
const titleTexts = [
  ['DC model', 134, 55], ['(40%)', 134, 67.5],
  ['FOURIER model', 359, 52], ['(73%)', 359, 65.5],
  ['POLY model', 593, 52], ['(81%)', 593, 65.5],
  ['FILTER model', 126, 262.5], ['(69%)', 126, 276],
  ['SEPSVD model', 360, 261], ['(85%)', 360, 272.5],
  ['DC model', 104, 439.5], ['(22%)', 104, 452],
  ['FOURIER model', 230, 439.5], ['(33%)', 230, 452],
  ['POLY model', 364, 439.5], ['(62%)', 364, 452],
  ['FILTER model', 500, 439.5], ['(51%)', 500, 452],
  ['SEPSVD model', 631, 439.5], ['(69%)', 631, 452]];
const panelLetters = [['A', 1, 0], ['B', 231, 0], ['C', 461, 0], ['D', 1, 211], ['E', 231, 211], ['F', 453, 260], ['G', 1, 418]];
const graphic = [];
titleTexts.forEach(t => graphic.push({type: 'text', z: 20, style: {text: t[0], x: t[1], y: t[2],
  textAlign: 'center', textVerticalAlign: 'middle', fontSize: 10.5, fontFamily: FONT, fill: '#111'}}));
panelLetters.forEach(t => graphic.push({type: 'text', z: 20, style: {text: t[0], x: t[1], y: t[2],
  textAlign: 'left', textVerticalAlign: 'top', fontSize: 19, fontWeight: 'bold', fontFamily: FONT, fill: '#000'}}));

const chart = echarts.init(document.getElementById('c'), null, {renderer: 'canvas'});
chart.setOption({animation: false, backgroundColor: '#fff', grid: grids, xAxis: xAxes, yAxis: yAxes,
  series, legend: legends, graphic});
</script></body></html>
